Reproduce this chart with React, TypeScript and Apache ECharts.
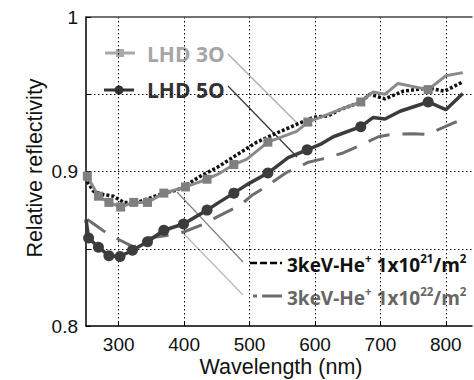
import React, { useEffect, useRef } from "react";
import * as echarts from "echarts";

// LHD 3O (gray, squares)
const wl3O = [252, 269, 285, 303, 323, 344, 369, 402, 435, 455, 476, 496, 528, 572, 589, 608, 638, 670, 689, 707, 727, 773, 800, 826];
const val3O = [0.897, 0.884, 0.880, 0.877, 0.880, 0.880, 0.886, 0.890, 0.895, 0.899, 0.9045, 0.908, 0.919, 0.926, 0.932, 0.935, 0.940, 0.945, 0.9515, 0.950, 0.957, 0.953, 0.962, 0.964];
const mk3O = [1, 1, 1, 1, 1, 1, 1, 1, 1, 0, 1, 0, 1, 0, 1, 0, 0, 1, 0, 0, 0, 1, 0, 0];

// LHD 5O (dark, circles)
const wl5O = [250, 254, 269, 285, 302, 321, 344, 369, 399, 435, 455, 476, 496, 528, 559, 588, 608, 628, 670, 689, 707, 730, 773, 800, 826];
const val5O = [0.869, 0.857, 0.851, 0.8455, 0.845, 0.849, 0.8545, 0.862, 0.866, 0.875, 0.8805, 0.886, 0.8915, 0.899, 0.909, 0.914, 0.9175, 0.9225, 0.929, 0.935, 0.934, 0.939, 0.945, 0.940, 0.9505];
const mk5O = [0, 1, 1, 1, 1, 1, 1, 1, 1, 1, 0, 1, 0, 1, 0, 1, 0, 0, 1, 0, 0, 0, 1, 0, 0];

// 3keV-He+ 1x10^21/m^2 (black dotted)
const wl21 = [252, 262, 277, 292, 308, 328, 349, 369, 389, 410, 425, 450, 485, 511, 542, 572, 597, 620, 638, 670, 684, 707, 735, 773, 798, 826];
const val21 = [0.8935, 0.887, 0.885, 0.884, 0.880, 0.880, 0.883, 0.886, 0.888, 0.893, 0.897, 0.9025, 0.912, 0.919, 0.925, 0.9305, 0.935, 0.936, 0.940, 0.945, 0.950, 0.947, 0.952, 0.954, 0.952, 0.958];

// 3keV-He+ 1x10^22/m^2 (gray dashed)
const wl22 = [252, 262, 282, 300, 323, 345, 380, 400, 430, 452, 485, 505, 528, 557, 590, 610, 643, 664, 697, 717, 750, 771, 804, 826];
const val22 = [0.869, 0.866, 0.860, 0.856, 0.851, 0.857, 0.859, 0.861, 0.866, 0.871, 0.878, 0.885, 0.891, 0.8995, 0.906, 0.908, 0.912, 0.916, 0.9225, 0.924, 0.9245, 0.924, 0.930, 0.934];

const yTickLabels: Record<string, string> = { "0.8": "0.8", "0.9": "0.9", "1": "1" };

const LBL_FONT = "'Open Sans', 'Noto Sans', sans-serif";
const AX_FONT = "'Liberation Sans', Arial, sans-serif";

function pts(xs: number[], ys: number[], marks?: number[]) {
  return xs.map((x, i) =>
    marks && !marks[i] ? { value: [x, ys[i]], symbol: "none" } : { value: [x, ys[i]] }
  );
}

export default function App() {
  const ref = useRef<HTMLDivElement>(null);
  useEffect(() => {
    if (!ref.current) return;
    const chart = echarts.init(ref.current, null, { renderer: "svg" });
    const sup = (fill: string) => ({ fontSize: 11.5, fontWeight: "bold", fontFamily: LBL_FONT, fill, verticalAlign: "top", lineHeight: 22 });
    const nrm = (fill: string) => ({ fontSize: 19, fontWeight: "bold", fontFamily: LBL_FONT, fill, verticalAlign: "bottom", lineHeight: 22 });
    const option: any = {
      animation: false,
      grid: { left: 86, right: 2, top: 17, bottom: 54 },
      xAxis: [
        {
          type: "value",
          min: 250,
          max: 840,
          splitNumber: 6,
          axisLine: { show: true, lineStyle: { color: "#000", width: 1.5 } },
          axisTick: { show: true, inside: true, length: 4, lineStyle: { color: "#000" } },
          axisLabel: {
            showMinLabel: false,
            showMaxLabel: false,
            margin: 9,
            fontSize: 19,
            fontFamily: AX_FONT,
            color: "#111",
            formatter: (v: number) => (v % 100 === 0 ? String(v) : ""),
          },
          splitLine: {
            show: true,
            showMinLine: false,
            showMaxLine: false,
            lineStyle: { color: "#000", type: [1.5, 2.5], width: 1 },
          },
        },
        {
          type: "value",
          position: "top",
          min: 250,
          max: 840,
          axisLine: { show: true, lineStyle: { color: "#444", width: 1.5 } },
          axisTick: { show: false },
          axisLabel: { show: false },
          splitLine: { show: false },
        },
      ],
      yAxis: {
        type: "value",
        min: 0.8,
        max: 1,
        interval: 0.05,
        axisLine: { show: true, lineStyle: { color: "#000", width: 1.5 } },
        axisTick: { show: true, inside: true, length: 5, lineStyle: { color: "#000" } },
        axisLabel: {
          margin: 8,
          fontSize: 19,
          fontFamily: AX_FONT,
          color: "#111",
          formatter: (v: number) => yTickLabels[String(Math.round(v * 100) / 100)] || "",
        },
        splitLine: {
          show: true,
          showMinLine: false,
          showMaxLine: false,
          lineStyle: { color: "#000", type: [1.5, 2.5], width: 1 },
        },
      },
      series: [
        {
          name: "1e22",
          type: "line",
          data: pts(wl22, val22),
          symbol: "none",
          lineStyle: { color: "#6e6e6e", width: 3, type: [22, 13], cap: "butt" },
        },
        {
          name: "1e21",
          type: "line",
          data: pts(wl21, val21),
          symbol: "none",
          lineStyle: { color: "#111", width: 3.5, type: [3, 2], cap: "butt" },
        },
        {
          name: "LHD 3O",
          type: "line",
          data: pts(wl3O, val3O, mk3O),
          symbol: "rect",
          symbolSize: 9,
          showAllSymbol: true,
          itemStyle: { color: "#7f7f7f" },
          lineStyle: { color: "#8a8a8a", width: 3 },
        },
        {
          name: "LHD 5O",
          type: "line",
          data: pts(wl5O, val5O, mk5O),
          symbol: "circle",
          symbolSize: 11,
          showAllSymbol: true,
          itemStyle: { color: "#3c3c3c" },
          lineStyle: { color: "#3c3c3c", width: 3.5 },
        },
      ],
      graphic: [
        // axis names
        {
          type: "text",
          x: 35,
          y: 168,
          rotation: Math.PI / 2,
          style: { text: "Relative reflectivity", font: `21.5px ${AX_FONT}`, fill: "#111", align: "center", verticalAlign: "middle" },
        },
        {
          type: "text",
          x: 281,
          y: 367,
          style: { text: "Wavelength (nm)", font: `21.5px ${AX_FONT}`, fill: "#111", align: "center", verticalAlign: "middle" },
        },
        // leader lines
        { type: "line", shape: { x1: 228, y1: 54, x2: 298, y2: 124 }, style: { stroke: "#aaaaaa", lineWidth: 1.2 } },
        { type: "line", shape: { x1: 228, y1: 86, x2: 297, y2: 157 }, style: { stroke: "#333333", lineWidth: 1.2 } },
        { type: "line", shape: { x1: 177, y1: 192, x2: 243, y2: 262 }, style: { stroke: "#808080", lineWidth: 1.2 } },
        { type: "line", shape: { x1: 183, y1: 233, x2: 243, y2: 295 }, style: { stroke: "#b8b8b8", lineWidth: 1.2 } },
        // LHD 3O legend
        { type: "line", shape: { x1: 105, y1: 53, x2: 135, y2: 53 }, style: { stroke: "#a8a8a8", lineWidth: 3 } },
        { type: "rect", shape: { x: 116, y: 49, width: 8, height: 8 }, style: { fill: "#a8a8a8" } },
        {
          type: "text",
          x: 147,
          y: 54,
          style: { text: "LHD 3O", font: `bold 21px ${LBL_FONT}`, fill: "#a6a6a6", verticalAlign: "middle" },
        },
        // LHD 5O legend
        { type: "line", shape: { x1: 104, y1: 90, x2: 134, y2: 90 }, style: { stroke: "#333", lineWidth: 3 } },
        { type: "circle", shape: { cx: 119, cy: 90, r: 4.5 }, style: { fill: "#333" } },
        {
          type: "text",
          x: 147,
          y: 90,
          style: { text: "LHD 5O", font: `bold 21px ${LBL_FONT}`, fill: "#333", verticalAlign: "middle" },
        },
        // 1e21 legend
        { type: "line", shape: { x1: 250, y1: 263, x2: 282, y2: 263 }, style: { stroke: "#000", lineWidth: 2.5, lineDash: [7, 3] } },
        {
          type: "text",
          x: 287,
          y: 263,
          style: {
            text: "{n|3keV-He}{s|+}{n| 1x10}{s|21}{n|/m}{s|2}",
            verticalAlign: "middle",
            rich: { n: nrm("#111"), s: sup("#111") },
          },
        },
        // 1e22 legend
        { type: "line", shape: { x1: 253, y1: 296, x2: 257, y2: 296 }, style: { stroke: "#6e6e6e", lineWidth: 3 } },
        { type: "line", shape: { x1: 262, y1: 296, x2: 282, y2: 296 }, style: { stroke: "#6e6e6e", lineWidth: 3 } },
        {
          type: "text",
          x: 287,
          y: 296,
          style: {
            text: "{n|3keV-He}{s|+}{n| 1x10}{s|22}{n|/m}{s|2}",
            verticalAlign: "middle",
            rich: { n: nrm("#666"), s: sup("#666") },
          },
        },
      ],
    };
    chart.setOption(option);
    return () => chart.dispose();
  }, []);
  return (
    <div
      ref={ref}
      style={{ position: "fixed", left: 0, top: 0, width: 474, height: 380, background: "#fff" }}
    />
  );
}
